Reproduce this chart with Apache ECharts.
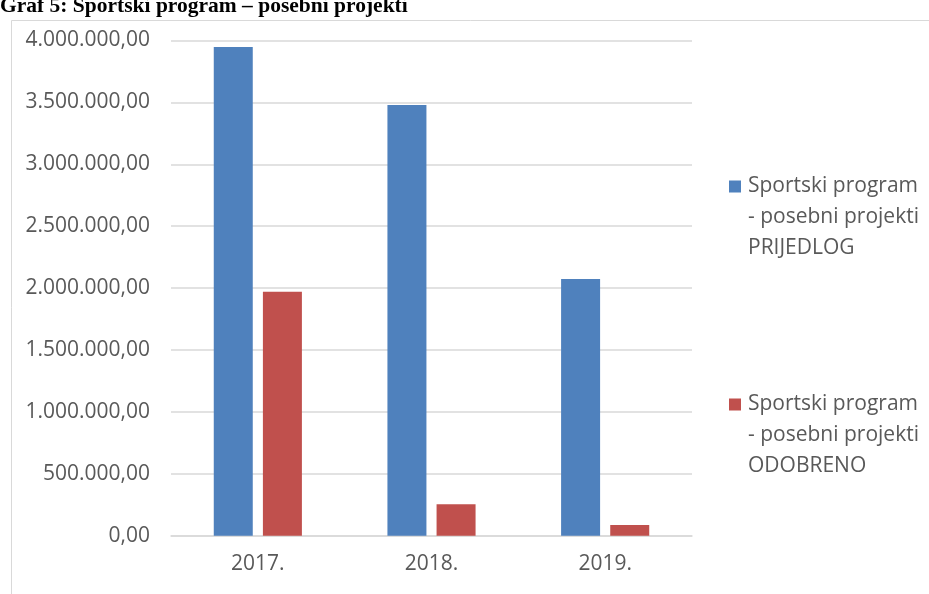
<!DOCTYPE html>
<html>
<head>
<meta charset="utf-8">
<script src="https://cdn.jsdelivr.net/npm/echarts@6/dist/echarts.min.js"></script>
<style>
html, body { margin: 0; padding: 0; background: #fff; }
#mychart { width: 929px; height: 594px; }
</style>
</head>
<body>
<div id="mychart"></div>
<script>
// podaci očitani s grafa
const godine = ['2017.', '2018.', '2019.'];
const prijedlog = [3947000, 3480000, 2073000];
const odobreno = [1971000, 254000, 86000];
const nazivPrijedlog = 'Sportski program - posebni projekti PRIJEDLOG';
const nazivOdobreno = 'Sportski program - posebni projekti ODOBRENO';
const legendaTekst = {
    [nazivPrijedlog]: 'Sportski program\n- posebni projekti\nPRIJEDLOG',
    [nazivOdobreno]: 'Sportski program\n- posebni projekti\nODOBRENO'
};

const font = '"Open Sans", sans-serif';
const siva = '#595959';

// broj u hrvatskom formatu, npr. 4.000.000,00
const formatBroj = v => {
    const s = Math.round(v).toString().replace(/\B(?=(\d{3})+(?!\d))/g, '.');
    return s + ',00';
};

const myChart = echarts.init(document.getElementById('mychart'));
myChart.setOption({
    animation: false,
    backgroundColor: '#fff',
    graphic: [
        {
            type: 'rect',
            shape: { x: 11.5, y: 20.5, width: 940, height: 620 },
            style: { fill: null, stroke: '#d9d9d9', lineWidth: 1 },
            silent: true
        },
        {
            type: 'text',
            x: 0,
            y: 17,
            style: {
                text: 'Graf 5: Sportski program – posebni projekti',
                font: 'bold 21.5px "Liberation Serif", serif',
                fill: '#000',
                verticalAlign: 'bottom'
            }
        }
    ],
    grid: { left: 171, right: 237, top: 40.5, bottom: 58.3 },
    legend: {
        orient: 'vertical',
        left: 729,
        top: 171,
        padding: 0,
        itemGap: 125,
        itemWidth: 12,
        itemHeight: 74,
        icon: 'path://M0,0h12v12h-12z M0,74L12,74',
        formatter: name => legendaTekst[name],
        textStyle: { fontFamily: font, fontSize: 21, color: siva, lineHeight: 31, padding: [0, 0, 0, 2] },
        selectedMode: false
    },
    xAxis: {
        type: 'category',
        data: godine,
        axisLine: { lineStyle: { color: '#d9d9d9', width: 1.5 } },
        axisTick: { show: false },
        axisLabel: { fontFamily: font, fontSize: 21, color: siva, margin: 18 }
    },
    yAxis: {
        type: 'value',
        min: 0,
        max: 4000000,
        interval: 500000,
        axisLine: { show: false },
        axisTick: { show: false },
        splitLine: { lineStyle: { color: '#d9d9d9', width: 1.5 } },
        axisLabel: { fontFamily: font, fontSize: 21, color: siva, margin: 21, formatter: formatBroj }
    },
    series: [
        {
            name: nazivPrijedlog,
            type: 'bar',
            data: prijedlog,
            barWidth: 39,
            barGap: '26%',
            itemStyle: { color: '#4f81bd' }
        },
        {
            name: nazivOdobreno,
            type: 'bar',
            data: odobreno,
            barWidth: 39,
            itemStyle: { color: '#c0504d' }
        }
    ]
});
</script>
</body>
</html>
